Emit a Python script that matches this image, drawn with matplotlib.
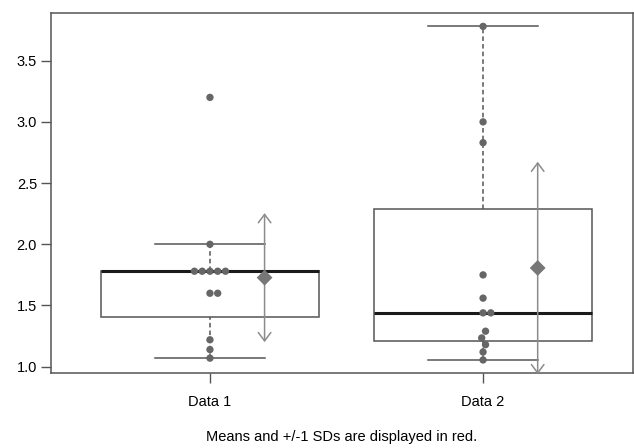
import numpy as np
import matplotlib
matplotlib.use("Agg")
import matplotlib.pyplot as plt
from matplotlib.patches import FancyArrowPatch

# donnees
labels = ["Data 1", "Data 2"]
data1 = [1.07, 1.14, 1.22, 1.6, 1.6, 1.78, 1.78, 1.78, 1.78, 1.78, 2.0, 3.2]
data2 = [1.055, 1.12, 1.18, 1.235, 1.29, 1.44, 1.44, 1.56, 1.75, 2.83, 3.0, 3.78]
yticks = [1.0, 1.5, 2.0, 2.5, 3.0, 3.5]
caption = "Means and +/-1 SDs are displayed in red."

plt.rcParams['font.family'] = ['Liberation Sans', 'DejaVu Sans']

box_col = "#555555"
pt_col = "#666666"
arr_col = "#8c8c8c"

fig = plt.figure(figsize=(6.34, 4.48), dpi=100)
ax = fig.add_axes([51/634, 75.3/448, 582/634, 359.4/448])
ax.set_xlim(0.418, 2.549)
ax.set_ylim(0.951, 3.887)


def fivenum(v):
    v = np.sort(np.array(v))
    n = len(v)
    n4 = np.floor((n + 3) / 2) / 2
    d = [1, n4, (n + 1) / 2, n + 1 - n4, n]
    return [0.5 * (v[int(np.floor(i)) - 1] + v[int(np.ceil(i)) - 1]) for i in d]


def swarm(v, d):
    # placement type beeswarm : plus proche du centre, sans chevauchement
    xs = []
    ys = []
    for y in sorted(v):
        cand = [0.0]
        for xi, yi in zip(xs, ys):
            dy = abs(y - yi)
            if dy < d:
                dx = np.sqrt(d**2 - dy**2)
                cand += [xi + dx, xi - dx]
        ok = []
        for c in cand:
            bad = False
            for xi, yi in zip(xs, ys):
                if (c - xi)**2 + (y - yi)**2 < d**2 - 1e-9:
                    bad = True
            if not bad:
                ok.append(c)
        ok.sort(key=lambda c: (round(abs(c), 9), -c))
        xs.append(ok[0])
        ys.append(y)
    return np.array(xs), np.array(ys)


# pixels par unite
py = 359.4 / (3.887 - 0.951)
px = 582 / (2.549 - 0.418)
d_pix = 7.75

for i, vals in enumerate([data1, data2]):
    pos = i + 1
    lo, h1, med, h2, hi = fivenum(vals)
    iqr = h2 - h1
    arr = np.array(vals)
    wlo = arr[arr >= h1 - 1.5 * iqr].min()
    whi = arr[arr <= h2 + 1.5 * iqr].max()
    w = 0.4
    # boite
    ax.add_patch(plt.Rectangle((pos - w, h1), 2 * w, h2 - h1, fill=False,
                               edgecolor=box_col, lw=1.1, zorder=2))
    ax.plot([pos - w, pos + w], [med, med], color="#1a1a1a", lw=2.2, zorder=3,
            solid_capstyle="butt")
    # moustaches
    ax.plot([pos, pos], [h2, whi], color=box_col, lw=1.1, ls=(0, (3, 2)), zorder=2)
    ax.plot([pos, pos], [wlo, h1], color=box_col, lw=1.1, ls=(0, (3, 2)), zorder=2)
    ax.plot([pos - 0.2, pos + 0.2], [whi, whi], color=box_col, lw=1.1, zorder=2)
    ax.plot([pos - 0.2, pos + 0.2], [wlo, wlo], color=box_col, lw=1.1, zorder=2)
    # points
    xs, ys = swarm(np.array(vals) * py, d_pix)
    ax.scatter(pos + xs / px, ys / py, s=28, color=pt_col, edgecolors="none", zorder=4)
    # moyenne et ecart type
    m = arr.mean()
    sd = arr.std(ddof=1)
    a = FancyArrowPatch((pos + 0.2, m - sd), (pos + 0.2, m + sd),
                        arrowstyle="<->,head_length=0.6,head_width=0.45",
                        mutation_scale=10, color=arr_col, lw=1.1, zorder=3)
    ax.add_patch(a)
    ax.scatter([pos + 0.2], [m], marker="D", s=65, color="#777777",
               edgecolors="none", zorder=5)

ax.set_xticks([1, 2])
ax.set_xticklabels(labels, fontsize=10.5)
ax.set_yticks(yticks)
ax.set_yticklabels(["%.1f" % t for t in yticks], fontsize=10.5)
ax.tick_params(axis="both", length=7, width=1, color=box_col, direction="out")
ax.tick_params(axis="x", pad=9)
ax.tick_params(axis="y", pad=3)
for s in ax.spines.values():
    s.set_color(box_col)
    s.set_linewidth(1.1)

fig.text(342/634, 1 - 437/448, caption, ha="center", va="center", fontsize=10.5)

fig.savefig("out.png", dpi=100)
